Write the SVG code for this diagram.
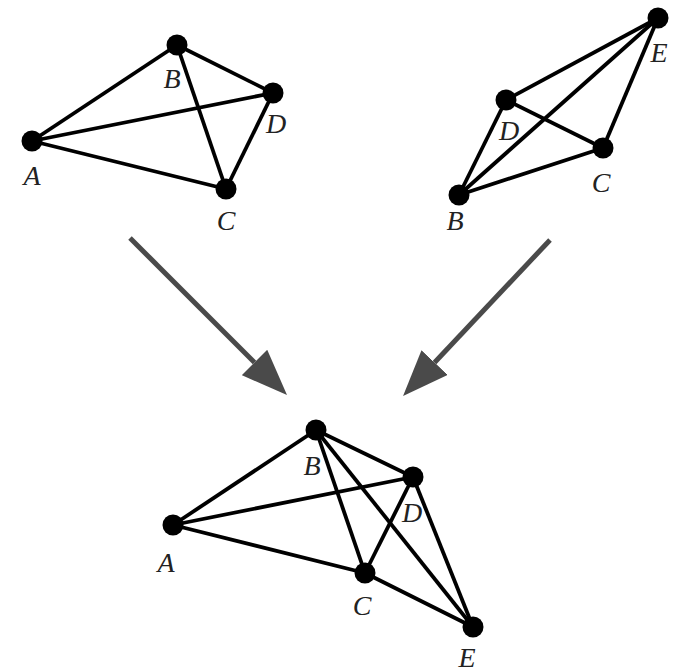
<svg xmlns="http://www.w3.org/2000/svg" width="677" height="672" viewBox="0 0 677 672">
<style>
.e{stroke:#000;stroke-width:3.8;fill:none}
.n{fill:#000}
.l{font-family:"Liberation Serif",serif;font-style:italic;font-size:28px;fill:#222;text-anchor:middle}
.a{stroke:#4a4a4a;stroke-width:5;fill:none}
</style>
<defs>
<marker id="head" markerUnits="userSpaceOnUse" viewBox="0 -18 46 36" refX="0" refY="0" markerWidth="46" markerHeight="36" orient="auto">
<path d="M0,-18 L46,0 L0,18 Z" fill="#4a4a4a"/>
</marker>
</defs>
<rect width="677" height="672" fill="#fff"/>
<g id="connectors">
<g id="g1-edges">
<line class="e" x1="32" y1="141" x2="177" y2="45"/>
<line class="e" x1="32" y1="141" x2="273" y2="93"/>
<line class="e" x1="32" y1="141" x2="226" y2="189"/>
<line class="e" x1="177" y1="45" x2="273" y2="93"/>
<line class="e" x1="177" y1="45" x2="226" y2="189"/>
<line class="e" x1="226" y1="189" x2="273" y2="93"/>
</g>
<g id="g2-edges">
<line class="e" x1="658" y1="18" x2="506" y2="100"/>
<line class="e" x1="658" y1="18" x2="459" y2="195"/>
<line class="e" x1="658" y1="18" x2="603" y2="148"/>
<line class="e" x1="506" y1="100" x2="459" y2="195"/>
<line class="e" x1="506" y1="100" x2="603" y2="148"/>
<line class="e" x1="459" y1="195" x2="603" y2="148"/>
</g>
<g id="g3-edges">
<line class="e" x1="173" y1="525" x2="316" y2="430"/>
<line class="e" x1="173" y1="525" x2="413" y2="477"/>
<line class="e" x1="173" y1="525" x2="365" y2="573"/>
<line class="e" x1="316" y1="430" x2="413" y2="477"/>
<line class="e" x1="316" y1="430" x2="365" y2="573"/>
<line class="e" x1="316" y1="430" x2="473" y2="627"/>
<line class="e" x1="413" y1="477" x2="365" y2="573"/>
<line class="e" x1="413" y1="477" x2="473" y2="627"/>
<line class="e" x1="365" y1="573" x2="473" y2="627"/>
</g>
<line id="arrow-left" class="a" x1="130" y1="238" x2="254.5" y2="362.5" marker-end="url(#head)"/>
<line id="arrow-right" class="a" x1="550" y1="240" x2="434.6" y2="362.5" marker-end="url(#head)"/>
</g>
<g id="g1-A"><circle class="n" cx="32" cy="141" r="10.5"/><text class="l" x="32" y="185">A</text></g>
<g id="g1-B"><circle class="n" cx="177" cy="45" r="10.5"/><text class="l" x="172" y="88">B</text></g>
<g id="g1-D"><circle class="n" cx="273" cy="93" r="10.5"/><text class="l" x="276" y="133">D</text></g>
<g id="g1-C"><circle class="n" cx="226" cy="189" r="10.5"/><text class="l" x="226" y="230">C</text></g>
<g id="g2-E"><circle class="n" cx="658" cy="18" r="10.5"/><text class="l" x="659" y="62">E</text></g>
<g id="g2-D"><circle class="n" cx="506" cy="100" r="10.5"/><text class="l" x="509" y="140">D</text></g>
<g id="g2-C"><circle class="n" cx="603" cy="148" r="10.5"/><text class="l" x="601" y="192">C</text></g>
<g id="g2-B"><circle class="n" cx="459" cy="195" r="10.5"/><text class="l" x="455" y="230">B</text></g>
<g id="g3-B"><circle class="n" cx="316" cy="430" r="10.5"/><text class="l" x="312" y="475">B</text></g>
<g id="g3-D"><circle class="n" cx="413" cy="477" r="10.5"/><text class="l" x="412" y="522">D</text></g>
<g id="g3-A"><circle class="n" cx="173" cy="525" r="10.5"/><text class="l" x="166" y="572">A</text></g>
<g id="g3-C"><circle class="n" cx="365" cy="573" r="10.5"/><text class="l" x="362" y="615">C</text></g>
<g id="g3-E"><circle class="n" cx="473" cy="627" r="10.5"/><text class="l" x="467" y="667">E</text></g>
</svg>
